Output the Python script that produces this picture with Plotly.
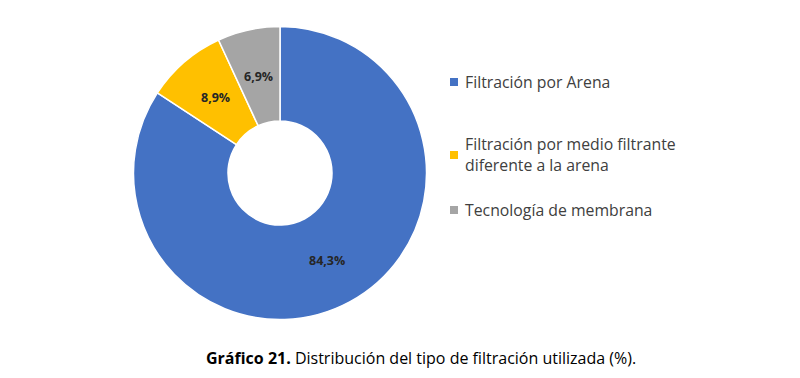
import math
import plotly.graph_objects as go

labels = ["Filtración por Arena", "Filtración por medio filtrante<br>diferente a la arena", "Tecnología de membrana"]
values = [84.3, 8.9, 6.9]
colors = ["#4472C4", "#FFC000", "#A5A5A5"]
caption_bold = "Gráfico 21."
caption_rest = " Distribución del tipo de filtración utilizada (%)."

W, H = 800, 378
OX, OY = 8, 8  # page body offset compensation
FONT = "Open Sans"
CX, CY, R, HOLE = 280, 173, 146.5, 0.355

def px(x):
    return (x - OX) / W

def py(y):
    return 1 - (y - OY) / H

fig = go.Figure()
fig.add_trace(go.Pie(
    labels=labels, values=values, sort=False, direction="clockwise", rotation=0,
    hole=HOLE,
    marker=dict(colors=colors, line=dict(color="white", width=1.5)),
    textinfo="none",
    domain=dict(x=[px(CX - R), px(CX + R)],
                y=[py(CY + R), py(CY - R)]),
    showlegend=False, hoverinfo="label+percent",
))

# data labels at the middle of the ring, derived from the values
total = sum(values)
cum = 0.0
rmid = R * (1 + HOLE) / 2
for v in values:
    ang = 2 * math.pi * (cum + v / 2) / total
    cum += v
    lx = CX + rmid * math.sin(ang)
    ly = CY - rmid * math.cos(ang)
    fig.add_annotation(text="<b>" + f"{v:.1f}".replace(".", ",") + "%</b>",
                       xref="paper", yref="paper", x=px(lx), y=py(ly),
                       xanchor="center", yanchor="middle", showarrow=False,
                       font=dict(family=FONT, size=12.5, color="#262626"))

# custom legend
leg_y = [82, 155, 210]
for lab, col, yy in zip(labels, colors, leg_y):
    fig.add_shape(type="rect", xref="paper", yref="paper",
                  x0=px(450), x1=px(458), y0=py(yy + 4), y1=py(yy - 4),
                  line=dict(width=0), fillcolor=col)
    fig.add_annotation(text=lab, xref="paper", yref="paper", x=px(463), y=py(yy),
                       xanchor="left", yanchor="middle", showarrow=False, align="left",
                       font=dict(family=FONT, size=15.8, color="#404040"))

fig.add_annotation(text=f"<b>{caption_bold}</b>{caption_rest}", xref="paper", yref="paper",
                   x=px(421), y=py(358), xanchor="center", yanchor="middle",
                   showarrow=False, font=dict(family=FONT, size=16, color="#000000"))

fig.update_layout(width=W, height=H, margin=dict(l=0, r=0, t=0, b=0),
                  paper_bgcolor="white", plot_bgcolor="white", separators=",.")
fig.write_html("out.html")
